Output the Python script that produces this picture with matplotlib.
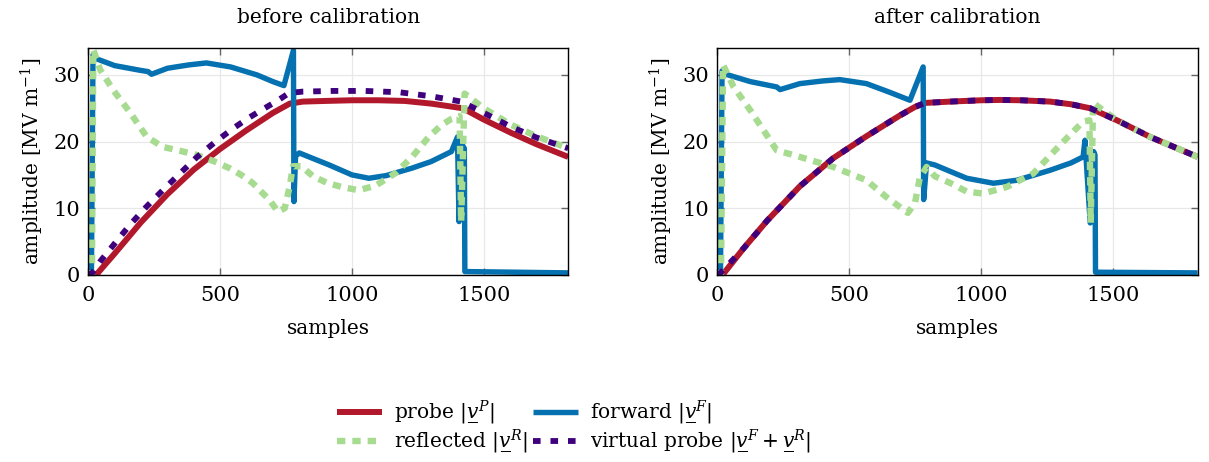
import matplotlib
matplotlib.use('Agg')
import matplotlib.pyplot as plt
from matplotlib.lines import Line2D

plt.rcParams['font.family'] = ['DejaVu Serif']
plt.rcParams['mathtext.fontset'] = 'dejavuserif'
plt.rcParams['font.size'] = 13

# colours
c_probe = '#B2182B'
c_fwd = '#0571B0'
c_refl = '#A6DB90'
c_virt = '#3F007D'

# ---- before calibration ----
probe_x_b = [0, 30, 100, 200, 300, 400, 500, 600, 700, 764, 814, 900, 1000, 1100, 1200, 1300, 1420, 1500, 1604, 1700, 1820]
probe_y_b = [0, 0, 3.2, 7.9, 12.1, 15.8, 18.9, 21.7, 24.3, 25.7, 26.0, 26.1, 26.2, 26.2, 26.1, 25.7, 25.0, 23.3, 21.3, 19.6, 17.7]

fwd_x_b = [0, 12, 18, 26, 100, 196, 227, 240, 300, 380, 448, 540, 640, 700, 742, 778, 780, 786, 800, 850, 913, 1000, 1064, 1130, 1226, 1300, 1377, 1400, 1406, 1418, 1426, 1428, 1820]
fwd_y_b = [0, 0, 33.0, 32.5, 31.4, 30.7, 30.5, 30.1, 31.0, 31.5, 31.8, 31.2, 30.0, 29.0, 28.4, 33.7, 11.0, 17.8, 18.3, 17.5, 16.5, 15.0, 14.5, 14.9, 16.0, 17.0, 18.5, 20.7, 8.0, 19.5, 19.0, 0.5, 0.3]

refl_x_b = [0, 14, 19, 45, 95, 158, 222, 283, 350, 411, 480, 536, 580, 623, 688, 719, 745, 764, 776, 808, 852, 906, 960, 1026, 1090, 1166, 1230, 1291, 1340, 1377, 1408, 1414, 1427, 1500, 1604, 1700, 1820]
refl_y_b = [0, 0, 33.8, 30.8, 27.7, 24.4, 20.7, 19.2, 18.6, 18.0, 17.0, 16.0, 15.0, 13.8, 11.2, 9.5, 10.0, 13.3, 16.3, 16.3, 14.8, 13.8, 13.2, 12.7, 13.4, 15.3, 17.8, 20.7, 22.5, 23.4, 23.8, 8.0, 27.2, 25.0, 22.5, 20.8, 19.0]

virt_x_b = [0, 15, 45, 100, 160, 220, 285, 350, 410, 480, 550, 610, 660, 720, 762, 814, 928, 1050, 1180, 1300, 1415, 1500, 1604, 1700, 1820]
virt_y_b = [0, 0.3, 2.0, 4.7, 7.6, 10.2, 12.8, 15.3, 17.6, 19.9, 22.0, 23.6, 24.8, 26.2, 27.3, 27.5, 27.6, 27.6, 27.4, 26.8, 26.0, 24.3, 22.2, 20.6, 19.0]

# ---- after calibration ----
probe_x_a = [0, 24, 100, 188, 313, 439, 565, 691, 749, 787, 882, 1000, 1072, 1150, 1261, 1340, 1413, 1514, 1640, 1730, 1820]
probe_y_a = [0, 0.2, 4.0, 8.1, 13.3, 17.5, 20.8, 23.9, 25.2, 25.8, 26.0, 26.2, 26.25, 26.2, 26.0, 25.6, 25.0, 23.2, 20.7, 19.2, 17.7]

fwd_x_a = [0, 12, 18, 24, 125, 225, 238, 313, 400, 464, 565, 653, 730, 780, 782, 793, 824, 872, 945, 1046, 1135, 1261, 1340, 1386, 1393, 1413, 1426, 1431, 1433, 1820]
fwd_y_a = [0, 0, 30.6, 30.2, 29.0, 28.2, 27.8, 28.7, 29.1, 29.3, 28.7, 27.4, 26.2, 31.2, 11.3, 16.8, 16.5, 15.7, 14.5, 13.75, 14.2, 15.7, 16.8, 17.7, 20.2, 7.8, 18.5, 18.0, 0.4, 0.3]

refl_x_a = [0, 14, 22, 62, 125, 225, 313, 439, 565, 640, 722, 749, 767, 793, 824, 882, 945, 1007, 1097, 1197, 1299, 1386, 1410, 1415, 1424, 1514, 1640, 1730, 1820]
refl_y_a = [0, 0, 31.5, 28.2, 24.7, 18.7, 17.7, 16.2, 14.2, 11.7, 9.3, 10.8, 14.5, 16.2, 14.8, 13.8, 12.5, 12.2, 13.2, 15.2, 19.5, 23.0, 23.2, 7.8, 25.8, 23.2, 20.7, 19.2, 17.7]

virt_x_a = [0, 10, 100, 188, 313, 439, 565, 691, 749, 787, 882, 1000, 1072, 1150, 1261, 1340, 1413, 1514, 1640, 1730, 1820]
virt_y_a = [0, 0.2, 4.0, 8.1, 13.3, 17.5, 20.8, 23.9, 25.2, 25.8, 26.0, 26.2, 26.25, 26.2, 26.0, 25.6, 25.0, 23.2, 20.7, 19.2, 17.7]

xticks = [0, 500, 1000, 1500]
yticks = [0, 10, 20, 30]

fig = plt.figure(figsize=(12.09, 4.62), dpi=100)
ax1 = fig.add_axes([0.073, 0.405, 0.397, 0.4905])
ax2 = fig.add_axes([0.5933, 0.405, 0.3973, 0.4905])

sty_probe = dict(color=c_probe, lw=4.3, solid_capstyle='butt')
sty_fwd = dict(color=c_fwd, lw=3.9, solid_capstyle='butt')
sty_refl = dict(color=c_refl, lw=4.6, linestyle=(0, (1.3, 1.1)))
sty_virt = dict(color=c_virt, lw=4.2, linestyle=(0, (1.3, 1.7)))

def draw(ax, px, py, fx, fy, rx, ry, vx, vy, title):
    ax.plot(px, py, **sty_probe)
    ax.plot(fx, fy, **sty_fwd)
    ax.plot(rx, ry, **sty_refl)
    ax.plot(vx, vy, **sty_virt)
    ax.set_xlim(0, 1820)
    ax.set_ylim(0, 34)
    ax.set_xticks(xticks)
    ax.set_yticks(yticks)
    ax.grid(True, color='#e8e8e8', lw=0.9)
    ax.set_axisbelow(True)
    ax.tick_params(direction='in', top=True, right=True, length=5, width=1,
                   color='#666666', labelsize=15)
    ax.tick_params(axis='x', pad=8)
    ax.tick_params(axis='y', pad=6)
    for s in ax.spines.values():
        s.set_linewidth(1.0)
    ax.set_xlabel('samples', fontsize=14.5, labelpad=10)
    ax.set_ylabel(r'amplitude [MV m$^{-1}$]', fontsize=14.5, labelpad=5)
    ax.set_title(title, fontsize=14.5, pad=18)

draw(ax1, probe_x_b, probe_y_b, fwd_x_b, fwd_y_b, refl_x_b, refl_y_b, virt_x_b, virt_y_b, 'before calibration')
draw(ax2, probe_x_a, probe_y_a, fwd_x_a, fwd_y_a, refl_x_a, refl_y_a, virt_x_a, virt_y_a, 'after calibration')

# underlined phasor v (combining low line)
v = 'v\u0332'
handles = [Line2D([], [], **sty_probe), Line2D([], [], **sty_refl),
           Line2D([], [], **sty_fwd), Line2D([], [], **sty_virt)]
labels = ['probe $|' + v + '^{P}|$', 'reflected $|' + v + '^{R}|$',
          'forward $|' + v + '^{F}|$', 'virtual probe $|' + v + '^{F}+' + v + '^{R}|$']
fig.legend(handles, labels, ncol=2, loc='upper center', bbox_to_anchor=(0.475, 0.158),
           frameon=False, fontsize=14.5, handlelength=2.2, handletextpad=0.6,
           columnspacing=0.3, labelspacing=0.02, borderpad=0)

fig.savefig('out.png', dpi=100)
